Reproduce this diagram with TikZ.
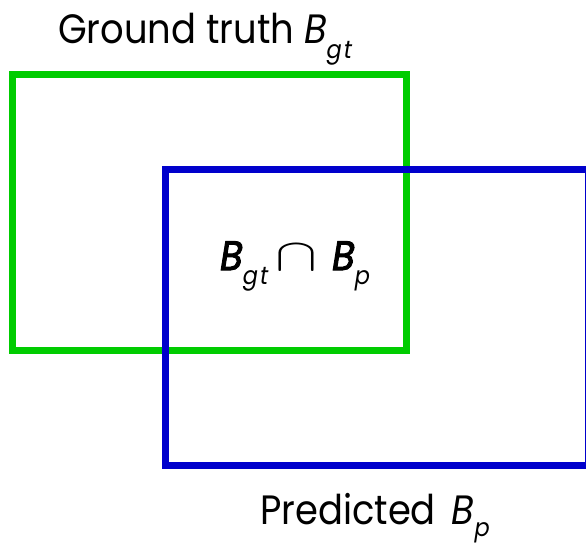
\documentclass[tikz,border=0pt]{standalone}
\usepackage{fontspec}
\setmainfont{Poppins}[FakeStretch=0.9]
\newfontfamily\popbold{Poppins}[FakeStretch=0.9, FakeBold=2.5]
\definecolor{gtgreen}{RGB}{0,204,0}
\definecolor{pblue}{RGB}{0,0,204}
\newcommand\lowsub[2]{\raisebox{-#1}{\fontsize{25}{25}\selectfont\itshape\addfontfeature{LetterSpace=8} #2}}
\newcommand\capsym{{\fontsize{10}{12}\selectfont\scalebox{6.3}[4.6]{$\cap$}}}
\tikzset{
  box/.style={line width=7pt},
  lbl/.style={anchor=base west, inner sep=0pt, font=\fontsize{41}{48}\selectfont},
  clbl/.style={anchor=base west, inner sep=0pt, font=\fontsize{41}{44}\selectfont}
}
\begin{document}
\begin{tikzpicture}[x=1pt,y=-1pt]
\useasboundingbox (0,0) rectangle (586,544);
\draw[box, gtgreen] (12.5,74.5) rectangle (406,350);
\draw[box, pblue] (165,169) rectangle (588.5,465);
\node[lbl] (gtlabel) at (58,43) {Ground truth \textit{B}\lowsub{15pt}{gt}};
\node[lbl] (plabel) at (260,524) {Predicted\hspace{16pt}\textit{B}\lowsub{12pt}{p}};
\node[clbl] (inter) at (220,270) {{\popbold\itshape B}\lowsub{14pt}{gt}\hspace{7pt}\capsym\hspace{15pt}{\popbold\itshape B}\lowsub{14pt}{p}};
\end{tikzpicture}
\end{document}
